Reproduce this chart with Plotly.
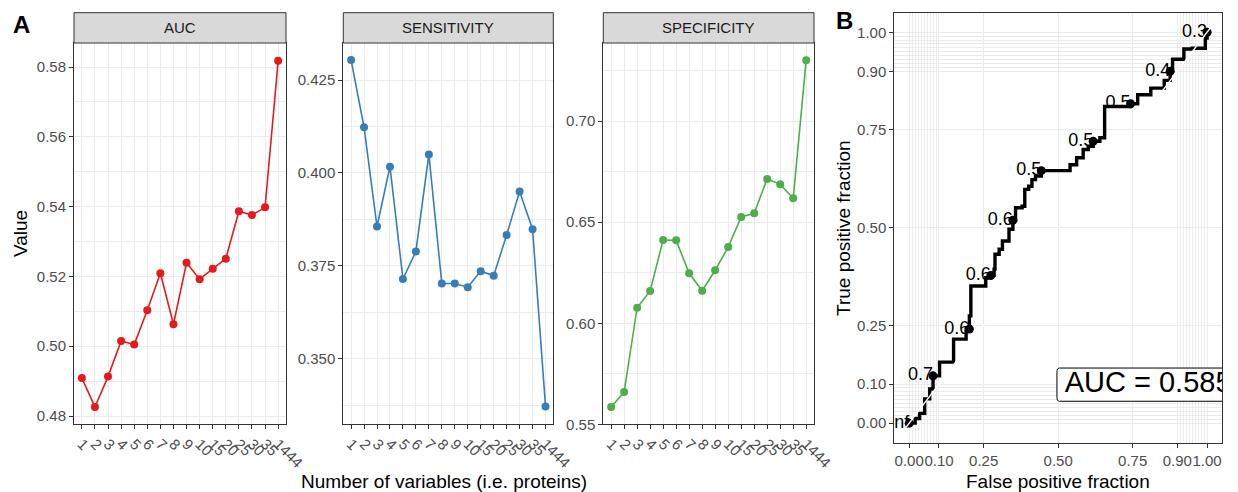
import plotly.graph_objects as go

W, H = 1238, 492
FONT = "Liberation Sans, Arial, sans-serif"

# ---------------- data ----------------
n_vars = ["1", "2", "3", "4", "5", "6", "7", "8", "9", "10", "15", "20", "25", "30", "35", "1444"]
auc_vals = [0.4909, 0.4826, 0.4913, 0.5015, 0.5005, 0.5103, 0.5209, 0.5063,
            0.5239, 0.5192, 0.5222, 0.5251, 0.5387, 0.5376, 0.5398, 0.5818]
sens_vals = [0.4304, 0.4123, 0.3856, 0.4017, 0.3715, 0.3789, 0.4050, 0.3703,
             0.3703, 0.3693, 0.3736, 0.3724, 0.3833, 0.3950, 0.3849, 0.3372]
spec_vals = [0.5586, 0.5660, 0.6077, 0.6160, 0.6412, 0.6410, 0.6247, 0.6161,
             0.6262, 0.6377, 0.6526, 0.6544, 0.6714, 0.6687, 0.6618, 0.7301]

roc_fpr = [0, 0.02, 0.035, 0.052, 0.052, 0.069, 0.08, 0.102, 0.141, 0.149, 0.149,
           0.163, 0.191, 0.202, 0.202, 0.207, 0.207, 0.241, 0.257, 0.274, 0.285,
           0.288, 0.302, 0.313, 0.335, 0.348, 0.357, 0.379, 0.388, 0.401, 0.412,
           0.424, 0.4435, 0.507, 0.540, 0.562, 0.584, 0.601, 0.6176, 0.640, 0.656,
           0.656, 0.684, 0.743, 0.767, 0.811, 0.856, 0.876, 0.884, 0.884, 0.917,
           0.922, 0.950, 0.994, 0.994, 1.0]
roc_tpr = [0, 0.012, 0.025, 0.036, 0.062, 0.0875, 0.121, 0.156, 0.156, 0.172, 0.215,
           0.215, 0.2406, 0.2406, 0.2745, 0.2745, 0.351, 0.351, 0.372, 0.378, 0.394,
           0.432, 0.445, 0.466, 0.496, 0.519, 0.551, 0.555, 0.598, 0.606, 0.623,
           0.632, 0.646, 0.646, 0.661, 0.679, 0.700, 0.708, 0.721, 0.730, 0.733,
           0.810, 0.810, 0.817, 0.840, 0.857, 0.877, 0.900, 0.908, 0.931, 0.931,
           0.957, 0.959, 0.960, 0.985, 1.0]

cut_fpr = [0, 0.08, 0.202, 0.274, 0.348, 0.4435, 0.6176, 0.743, 0.876, 1.0]
cut_tpr = [0, 0.121, 0.2406, 0.378, 0.519, 0.646, 0.721, 0.817, 0.900, 1.0]
cut_labels = ["Inf", "0.7", "0.6", "0.6", "0.6", "0.5", "0.5", "0.5", "0.4", "0.3"]
auc_text = "AUC = 0.585"

roc_breaks = [0, 0.1, 0.25, 0.5, 0.75, 0.9, 1.0]
roc_break_labels = ["0.00", "0.10", "0.25", "0.50", "0.75", "0.90", "1.00"]
roc_minor = [round(i * 0.01, 2) for i in range(0, 11)] + [round(0.9 + i * 0.01, 2) for i in range(0, 11)]

facets = [
    dict(name="AUC", vals=auc_vals, color="#E41A1C",
         yticks=[0.48, 0.50, 0.52, 0.54, 0.56, 0.58],
         ylabels=["0.48", "0.50", "0.52", "0.54", "0.56", "0.58"],
         yminor=[0.49, 0.51, 0.53, 0.55, 0.57],
         yrange=[0.4776, 0.5869], px=(74, 286)),
    dict(name="SENSITIVITY", vals=sens_vals, color="#377EB8",
         yticks=[0.350, 0.375, 0.400, 0.425],
         ylabels=["0.350", "0.375", "0.400", "0.425"],
         yminor=[0.3375, 0.3625, 0.3875, 0.4125],
         yrange=[0.3324, 0.43495], px=(343.3, 553.3)),
    dict(name="SPECIFICITY", vals=spec_vals, color="#4DAF4A",
         yticks=[0.55, 0.60, 0.65, 0.70],
         ylabels=["0.55", "0.60", "0.65", "0.70"],
         yminor=[0.575, 0.625, 0.675, 0.725],
         yrange=[0.55, 0.7386], px=(603.3, 814)),
]

GRID = "#EBEBEB"
DARK = "#333333"
TICKC = "#4D4D4D"

fig = go.Figure()
layout = dict(
    width=W, height=H, margin=dict(l=0, r=0, t=0, b=0, pad=0), autosize=False,
    paper_bgcolor="white", plot_bgcolor="white", showlegend=False,
    font=dict(family=FONT, color="black"),
)
shapes = []
annotations = []

panel_top, panel_bot, strip_top = 43, 424.4, 12.7
xpos = list(range(len(n_vars)))

for i, f in enumerate(facets):
    k = "" if i == 0 else str(i + 1)
    fig.add_trace(go.Scatter(x=xpos, y=f["vals"], mode="lines+markers",
                             line=dict(color=f["color"], width=1.6),
                             marker=dict(color=f["color"], size=8),
                             xaxis="x" + k, yaxis="y" + k, cliponaxis=False))
    x0, x1 = f["px"]
    layout["xaxis" + k] = dict(
        domain=[x0 / W, x1 / W], range=[-0.6, len(n_vars) - 0.4],
        tickmode="array", tickvals=xpos, ticktext=n_vars, tickangle=45,
        ticks="outside", ticklen=4, tickwidth=1, tickcolor=DARK,
        tickfont=dict(size=15, color=TICKC, family=FONT),
        showgrid=True, gridcolor=GRID, gridwidth=1.3, zeroline=False,
        showline=True, mirror=True, linecolor=DARK, linewidth=1,
        anchor="y" + k, fixedrange=True, automargin=False,
    )
    layout["yaxis" + k] = dict(
        domain=[1 - panel_bot / H, 1 - panel_top / H], range=f["yrange"],
        tickmode="array", tickvals=f["yticks"], ticktext=f["ylabels"],
        ticks="outside", ticklen=4, tickwidth=1, tickcolor=DARK,
        tickfont=dict(size=15, color=TICKC, family=FONT),
        showgrid=True, gridcolor=GRID, gridwidth=1.3, zeroline=False,
        minor=dict(tickmode="array", tickvals=f["yminor"], showgrid=True,
                   gridcolor=GRID, gridwidth=0.7, ticks=""),
        showline=True, mirror=True, linecolor=DARK, linewidth=1,
        anchor="x" + k, fixedrange=True, automargin=False,
    )
    # strip
    shapes.append(dict(type="rect", xref="paper", yref="paper",
                       x0=x0 / W, x1=x1 / W, y0=1 - panel_top / H, y1=1 - strip_top / H,
                       fillcolor="#D9D9D9", line=dict(color=DARK, width=1), layer="above"))
    annotations.append(dict(text=f["name"], xref="paper", yref="paper",
                            x=(x0 + x1) / 2 / W, y=1 - (panel_top + strip_top) / 2 / H,
                            showarrow=False, xanchor="center", yanchor="middle",
                            font=dict(size=15, color="#1A1A1A", family=FONT)))

# ---------------- ROC panel ----------------
rx0, rx1, ry0, ry1 = 894.3, 1222, 12.7, 442.7
fig.add_trace(go.Scatter(x=roc_fpr, y=roc_tpr, mode="lines", line_shape="hv",
                         line=dict(color="black", width=3.4), xaxis="x4", yaxis="y4"))
fig.add_trace(go.Scatter(x=cut_fpr, y=cut_tpr, mode="markers",
                         marker=dict(color="black", size=9), xaxis="x4", yaxis="y4"))
fig.add_trace(go.Scatter(x=cut_fpr, y=cut_tpr, mode="text", text=cut_labels,
                         textposition="middle left",
                         textfont=dict(size=18, color="black", family=FONT),
                         xaxis="x4", yaxis="y4"))
fig.add_trace(go.Scatter(x=[-0.05, 1.05], y=[-0.05, 1.05], mode="lines",
                         line=dict(color="white", width=1.4), xaxis="x4", yaxis="y4"))
# AUC label (box + text clipped by the panel)
bx0, bx1, by0, by1, r = 0.496, 1.25, 0.056, 0.141, 0.008
shapes.append(dict(type="path", xref="x4", yref="y4",
                   path=(f"M {bx0 + r} {by0} L {bx1} {by0} L {bx1} {by1} L {bx0 + r} {by1} "
                         f"Q {bx0} {by1} {bx0} {by1 - r * 1.3} L {bx0} {by0 + r * 1.3} "
                         f"Q {bx0} {by0} {bx0 + r} {by0} Z"),
                   fillcolor="white", line=dict(color="black", width=1), layer="between"))
fig.add_trace(go.Scatter(x=[0.522], y=[0.099], mode="text", text=[auc_text],
                         textposition="middle right",
                         textfont=dict(size=29, color="black", family=FONT),
                         xaxis="x4", yaxis="y4"))

roc_axis_common = dict(
    tickmode="array", tickvals=roc_breaks, ticktext=roc_break_labels, tickangle=0,
    ticks="outside", ticklen=4, tickwidth=1, tickcolor=DARK,
    tickfont=dict(size=15, color=TICKC, family=FONT),
    showgrid=True, gridcolor=GRID, gridwidth=1.3, zeroline=False,
    minor=dict(tickmode="array", tickvals=roc_minor, showgrid=True,
               gridcolor=GRID, gridwidth=0.7, ticks=""),
    showline=True, mirror=True, linecolor=DARK, linewidth=1,
    range=[-0.05, 1.05], fixedrange=True, automargin=False,
)
layout["xaxis4"] = dict(domain=[rx0 / W, rx1 / W], anchor="y4", **roc_axis_common)
layout["yaxis4"] = dict(domain=[1 - ry1 / H, 1 - ry0 / H], anchor="x4", **roc_axis_common)

# ---------------- titles ----------------
annotations += [
    dict(text="Number of variables (i.e. proteins)", xref="paper", yref="paper",
         x=444 / W, y=1 - 481 / H, showarrow=False, xanchor="center", yanchor="middle",
         font=dict(size=19, color="black", family=FONT)),
    dict(text="Value", xref="paper", yref="paper", x=20 / W, y=1 - 234 / H,
         showarrow=False, textangle=-90, xanchor="center", yanchor="middle",
         font=dict(size=19, color="black", family=FONT)),
    dict(text="False positive fraction", xref="paper", yref="paper",
         x=1058 / W, y=1 - 481 / H, showarrow=False, xanchor="center", yanchor="middle",
         font=dict(size=19, color="black", family=FONT)),
    dict(text="True positive fraction", xref="paper", yref="paper",
         x=844 / W, y=1 - 228 / H, showarrow=False, textangle=-90,
         xanchor="center", yanchor="middle",
         font=dict(size=19, color="black", family=FONT)),
    dict(text="<b>A</b>", xref="paper", yref="paper", x=11 / W, y=1 - 24 / H,
         showarrow=False, xanchor="left", yanchor="middle",
         font=dict(size=24, color="black", family=FONT)),
    dict(text="<b>B</b>", xref="paper", yref="paper", x=834 / W, y=1 - 20 / H,
         showarrow=False, xanchor="left", yanchor="middle",
         font=dict(size=24, color="black", family=FONT)),
]

layout["shapes"] = shapes
layout["annotations"] = annotations
fig.update_layout(**layout)
fig.write_html("out.html")
